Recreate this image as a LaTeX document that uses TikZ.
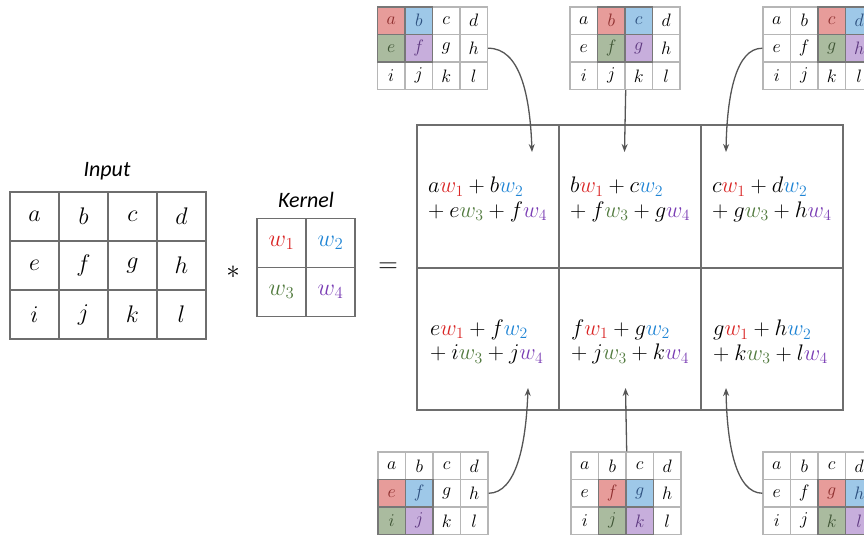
\RequirePackage{fix-cm}
\documentclass[tikz,border=0pt]{standalone}
\usepackage{fontspec}
\newfontfamily\labelfont{Carlito}
\usetikzlibrary{arrows.meta}

% weight colours
\definecolor{cR}{HTML}{D92525}
\definecolor{cB}{HTML}{1F84D4}
\definecolor{cG}{HTML}{517A3E}
\definecolor{cP}{HTML}{7A3DB4}
% window fills and the letters on them
\definecolor{hlR}{HTML}{E79C9A}
\definecolor{hlB}{HTML}{9EC8E8}
\definecolor{hlG}{HTML}{AABB9F}
\definecolor{hlP}{HTML}{C7AEDC}
\definecolor{txR}{HTML}{8E2E2E}
\definecolor{txB}{HTML}{2C4F7E}
\definecolor{txG}{HTML}{3E5434}
\definecolor{txP}{HTML}{5E3880}
% lines
\definecolor{gridgray}{HTML}{6E6E6E}
\definecolor{minigray}{HTML}{B6B6B6}
\definecolor{wingray}{HTML}{777777}
\definecolor{arrowgray}{HTML}{555555}

% one small 3x4 input with a coloured 2x2 window
% #1 name, #2 top-left corner, #3 first column of the window, #4 first row of the window
\newcommand\minigrid[4]{%
  \begin{scope}[shift={#2}]
    \foreach \ltr [count=\i from 0] in {a,b,c,d,e,f,g,h,i,j,k,l} {
      \pgfmathtruncatemacro\cc{mod(\i,4)}
      \pgfmathtruncatemacro\rr{div(\i,4)}
      \pgfmathtruncatemacro\dc{\cc-#3}
      \pgfmathtruncatemacro\dr{\rr-#4}
      \def\fc{white}\def\tc{black}
      \ifnum\dc>-1 \ifnum\dc<2 \ifnum\dr>-1 \ifnum\dr<2
        \pgfmathtruncatemacro\kk{\dr*2+\dc}
        \ifcase\kk \def\fc{hlR}\def\tc{txR}\or \def\fc{hlB}\def\tc{txB}\or
          \def\fc{hlG}\def\tc{txG}\or \def\fc{hlP}\def\tc{txP}\fi
      \fi\fi\fi\fi
      \node[minicell, fill=\fc, text=\tc] (#1-\ltr) at ({(\cc+0.5)*27.5},{(\rr+0.5)*27.5}) {$\ltr$};
    }
    \draw[window] ({#3*27.5},{#4*27.5}) rectangle ++(55,55)
      ({#3*27.5+27.5},{#4*27.5}) -- ++(0,55)
      ({#3*27.5},{#4*27.5+27.5}) -- ++(55,0);
  \end{scope}
}

\begin{document}
\begin{tikzpicture}[x=1pt, y=-1pt,
  bigcell/.style={draw=gridgray, line width=1.3pt, minimum size=49pt, inner sep=0pt,
    font=\fontsize{24}{28}\selectfont},
  minicell/.style={draw=minigray, line width=1.4pt, minimum size=27.5pt, inner sep=0pt,
    font=\fontsize{18}{20}\selectfont},
  window/.style={draw=wingray, line width=1.8pt},
  outcell/.style={draw=gridgray, line width=1.6pt, minimum width=142pt, minimum height=142.5pt,
    inner sep=0pt},
  formula/.style={anchor=west, align=left, inner sep=0pt, font=\fontsize{22.5}{24.5}\selectfont},
  title/.style={font=\labelfont\itshape\fontsize{22}{24}\selectfont, inner sep=0pt},
  op/.style={font=\fontsize{27}{28}\selectfont, inner sep=0pt},
  link/.style={draw=arrowgray, line width=1.3pt, -{Stealth[length=8pt, width=6pt]}}
]
\useasboundingbox (0,0) rectangle (864,535);
\clip (0,0) rectangle (864,535);

% input
\node[title] (inlabel) at (107,171) {Input};
\foreach \ltr [count=\i from 0] in {a,b,c,d,e,f,g,h,i,j,k,l} {
  \pgfmathtruncatemacro\cc{mod(\i,4)}
  \pgfmathtruncatemacro\rr{div(\i,4)}
  \node[bigcell] (in-\ltr) at ({10+(\cc+0.5)*49},{192+(\rr+0.5)*49}) {$\ltr$};
}

\node[op] (conv) at (233,272) {$*$};

% kernel
\node[title] (klabel) at (306,200) {Kernel};
\node[bigcell] (k-1) at (281.5,243) {$\color{cR}w_1$};
\node[bigcell] (k-2) at (330.5,243) {$\color{cB}w_2$};
\node[bigcell] (k-3) at (281.5,292) {$\color{cG}w_3$};
\node[bigcell] (k-4) at (330.5,292) {$\color{cP}w_4$};

\node[op] (eq) at (388,268) {$=$};

% output
\node[outcell] (o-11) at (488,196.5) {};
\node[outcell] (o-12) at (630,196.5) {};
\node[outcell] (o-13) at (772,196.5) {};
\node[outcell] (o-21) at (488,339) {};
\node[outcell] (o-22) at (630,339) {};
\node[outcell] (o-23) at (772,339) {};

\node[formula] (f-11) at (428,199.5)
  {$a{\color{cR}w_1} + b{\color{cB}w_2}$\\$+\:e{\color{cG}w_3} + f{\color{cP}w_4}$};
\node[formula] (f-12) at (570,199.5)
  {$b{\color{cR}w_1} + c{\color{cB}w_2}$\\$+\:f{\color{cG}w_3} + g{\color{cP}w_4}$};
\node[formula] (f-13) at (712,199.5)
  {$c{\color{cR}w_1} + d{\color{cB}w_2}$\\$+\:g{\color{cG}w_3} + h{\color{cP}w_4}$};
\node[formula] (f-21) at (430,342)
  {$e{\color{cR}w_1} + f{\color{cB}w_2}$\\$+\:i{\color{cG}w_3} + j{\color{cP}w_4}$};
\node[formula] (f-22) at (571,342)
  {$f{\color{cR}w_1} + g{\color{cB}w_2}$\\$+\:j{\color{cG}w_3} + k{\color{cP}w_4}$};
\node[formula] (f-23) at (713,342)
  {$g{\color{cR}w_1} + h{\color{cB}w_2}$\\$+\:k{\color{cG}w_3} + l{\color{cP}w_4}$};

% the six window positions
\minigrid{tl}{(377.5,7)}{0}{0}
\minigrid{tm}{(570,7)}{1}{0}
\minigrid{tr}{(763,7)}{2}{0}
\minigrid{bl}{(378,452)}{0}{1}
\minigrid{bm}{(571,452)}{1}{1}
\minigrid{br}{(763,452)}{2}{1}

% arrow ends inside the output cells
\coordinate (tip-11) at (532,152);
\coordinate (tip-12) at (624.5,152);
\coordinate (tip-13) at (726,152);
\coordinate (tip-21) at (528,388);
\coordinate (tip-22) at (625.5,388);
\coordinate (tip-23) at (726,388);

\draw[link] (tl-h.east) .. controls (520,48) and (530,95) .. (tip-11);
\draw[link] (tm-j.south east) -- (tip-12);
\draw[link] (tr-e.west) .. controls (736,48) and (727,95) .. (tip-13);
\draw[link] (bl-h.east) .. controls (516,493) and (526,445) .. (tip-21);
\draw[link] (bm-b.north east) -- (tip-22);
\draw[link] (br-e.west) .. controls (736,493) and (727,445) .. (tip-23);
\end{tikzpicture}
\end{document}
